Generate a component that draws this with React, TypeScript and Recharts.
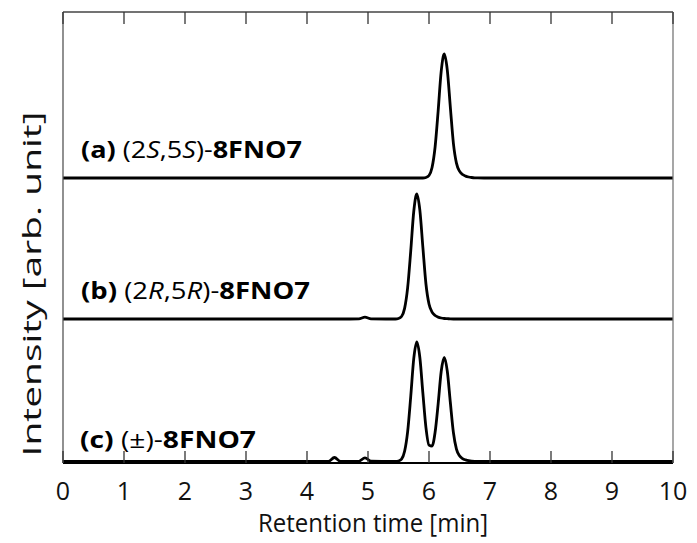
import { LineChart, Line, XAxis, YAxis } from "recharts";

// retention time grid [min]
const times = [
  0, 1, 2, 3, 4, 4.35, 4.45, 4.55, 4.85, 4.95, 5.05, 5.4,
  5.45, 5.5, 5.55, 5.6, 5.65, 5.7, 5.75, 5.8, 5.85, 5.9, 5.95, 6.0,
  6.05, 6.1, 6.15, 6.2, 6.25, 6.3, 6.35, 6.4, 6.45, 6.5, 6.55, 6.6,
  6.65, 6.7, 6.75, 6.8, 6.9, 7, 8, 9, 10,
];

// (a) (2S,5S) trace, stacked on top
const traceA = [
  285, 285, 285, 285, 285, 285, 285, 285, 285, 285, 285, 285,
  285, 285, 285, 285, 285, 285, 285, 285, 285, 285, 285.5, 287.5,
  295.5, 316, 352, 391.6, 409, 392.9, 355.7, 319.7, 299.9, 291.8, 288.5, 286.9,
  286, 285.5, 285.2, 285.1, 285, 285, 285, 285, 285,
];

// (b) (2R,5R) trace, middle
const traceB = [
  144, 144, 144, 144, 144, 144, 144, 144, 144.2, 145.8, 144.2, 144,
  144, 144.5, 146.5, 154.6, 175.3, 211.5, 251.5, 269, 252.8, 215.3, 179, 159,
  150.9, 147.5, 145.9, 145, 144.5, 144.3, 144.1, 144, 144, 144, 144, 144,
  144, 144, 144, 144, 144, 144, 144, 144, 144,
];

// (c) racemate trace, bottom
const traceC = [
  1.5, 1.5, 1.5, 1.5, 1.5, 1.6, 5.5, 1.7, 1.7, 5.2, 1.8, 1.5,
  1.5, 2.0, 3.9, 11.7, 31.4, 66, 104.3, 121, 105.5, 69.6, 35.4, 17.9,
  16.9, 30.7, 59.2, 91.5, 105.5, 91.7, 60.5, 30.5, 13.9, 7.2, 4.4, 3.1,
  2.3, 1.9, 1.7, 1.6, 1.5, 1.5, 1.5, 1.5, 1.5,
];

const xTicks = [0, 1, 2, 3, 4, 5, 6, 7, 8, 9, 10];

const rows = times.map((t, i) => ({ t, a: traceA[i], b: traceB[i], c: traceC[i] }));

const FONT = '"Open Sans", sans-serif';

const BottomTick = (props: any) => {
  const { x, y, payload } = props;
  return (
    <g>
      <line x1={x} y1={y} x2={x} y2={y - 12} stroke="#333" strokeWidth={1.3} />
      <text x={x} y={y + 37} textAnchor="middle" fontFamily={FONT} fontSize={25} fill="#111">
        {payload.value}
      </text>
    </g>
  );
};

const TopTick = (props: any) => {
  const { x, y } = props;
  return <line x1={x} y1={y} x2={x} y2={y + 12} stroke="#333" strokeWidth={1.3} />;
};

export default function App() {
  return (
    <div style={{ position: "absolute", left: 0, top: 0, width: 697, height: 543, background: "#fff" }}>
      <LineChart width={697} height={543} data={rows} margin={{ top: 2, right: 14, bottom: 50, left: 53 }}>
        <XAxis
          dataKey="t"
          type="number"
          domain={[0, 10]}
          ticks={xTicks}
          interval={0}
          height={30}
          tickSize={0}
          tickMargin={0}
          tickLine={false}
          axisLine={{ stroke: "#000", strokeWidth: 2 }}
          tick={<BottomTick />}
        />
        <XAxis
          xAxisId="top"
          orientation="top"
          dataKey="t"
          type="number"
          domain={[0, 10]}
          ticks={xTicks}
          interval={0}
          height={10}
          tickSize={0}
          tickMargin={0}
          tickLine={false}
          axisLine={{ stroke: "#444", strokeWidth: 1.5 }}
          tick={<TopTick />}
        />
        <YAxis domain={[0, 451]} width={10} tick={false} tickLine={false} axisLine={{ stroke: "#555", strokeWidth: 1.3 }} />
        <YAxis yAxisId="r" orientation="right" domain={[0, 451]} width={10} tick={false} tickLine={false} axisLine={{ stroke: "#777", strokeWidth: 1.3 }} />
        <Line dataKey="a" type="monotone" stroke="#000" strokeWidth={2.8} dot={false} isAnimationActive={false} />
        <Line dataKey="b" type="monotone" stroke="#000" strokeWidth={2.8} dot={false} isAnimationActive={false} />
        <Line dataKey="c" type="monotone" stroke="#000" strokeWidth={2.8} dot={false} isAnimationActive={false} />
      </LineChart>
      <svg width={697} height={543} style={{ position: "absolute", left: 0, top: 0, pointerEvents: "none" }}>
        <g fontFamily={FONT} fontSize={23} fill="#000">
          <text x={81} y={158} textLength={221} lengthAdjust="spacingAndGlyphs">
            <tspan fontWeight="bold">(a)</tspan> (2<tspan fontStyle="italic">S</tspan>,5<tspan fontStyle="italic">S</tspan>)-<tspan fontWeight="bold">8FNO7</tspan>
          </text>
          <text x={81} y={299} textLength={229} lengthAdjust="spacingAndGlyphs">
            <tspan fontWeight="bold">(b)</tspan> (2<tspan fontStyle="italic">R</tspan>,5<tspan fontStyle="italic">R</tspan>)-<tspan fontWeight="bold">8FNO7</tspan>
          </text>
          <text x={80} y={448} textLength={176} lengthAdjust="spacingAndGlyphs">
            <tspan fontWeight="bold">(c)</tspan> (±)-<tspan fontWeight="bold">8FNO7</tspan>
          </text>
        </g>
        <text x={373} y={532} textAnchor="middle" fontFamily={FONT} fontSize={25} fill="#111" textLength={230} lengthAdjust="spacingAndGlyphs">
          Retention time [min]
        </text>
        <text
          x={0}
          y={0}
          transform="translate(41, 284) rotate(-90)"
          textAnchor="middle"
          fontFamily={FONT}
          fontSize={25}
          fill="#111"
          textLength={345}
          lengthAdjust="spacingAndGlyphs"
        >
          Intensity [arb. unit]
        </text>
      </svg>
    </div>
  );
}
